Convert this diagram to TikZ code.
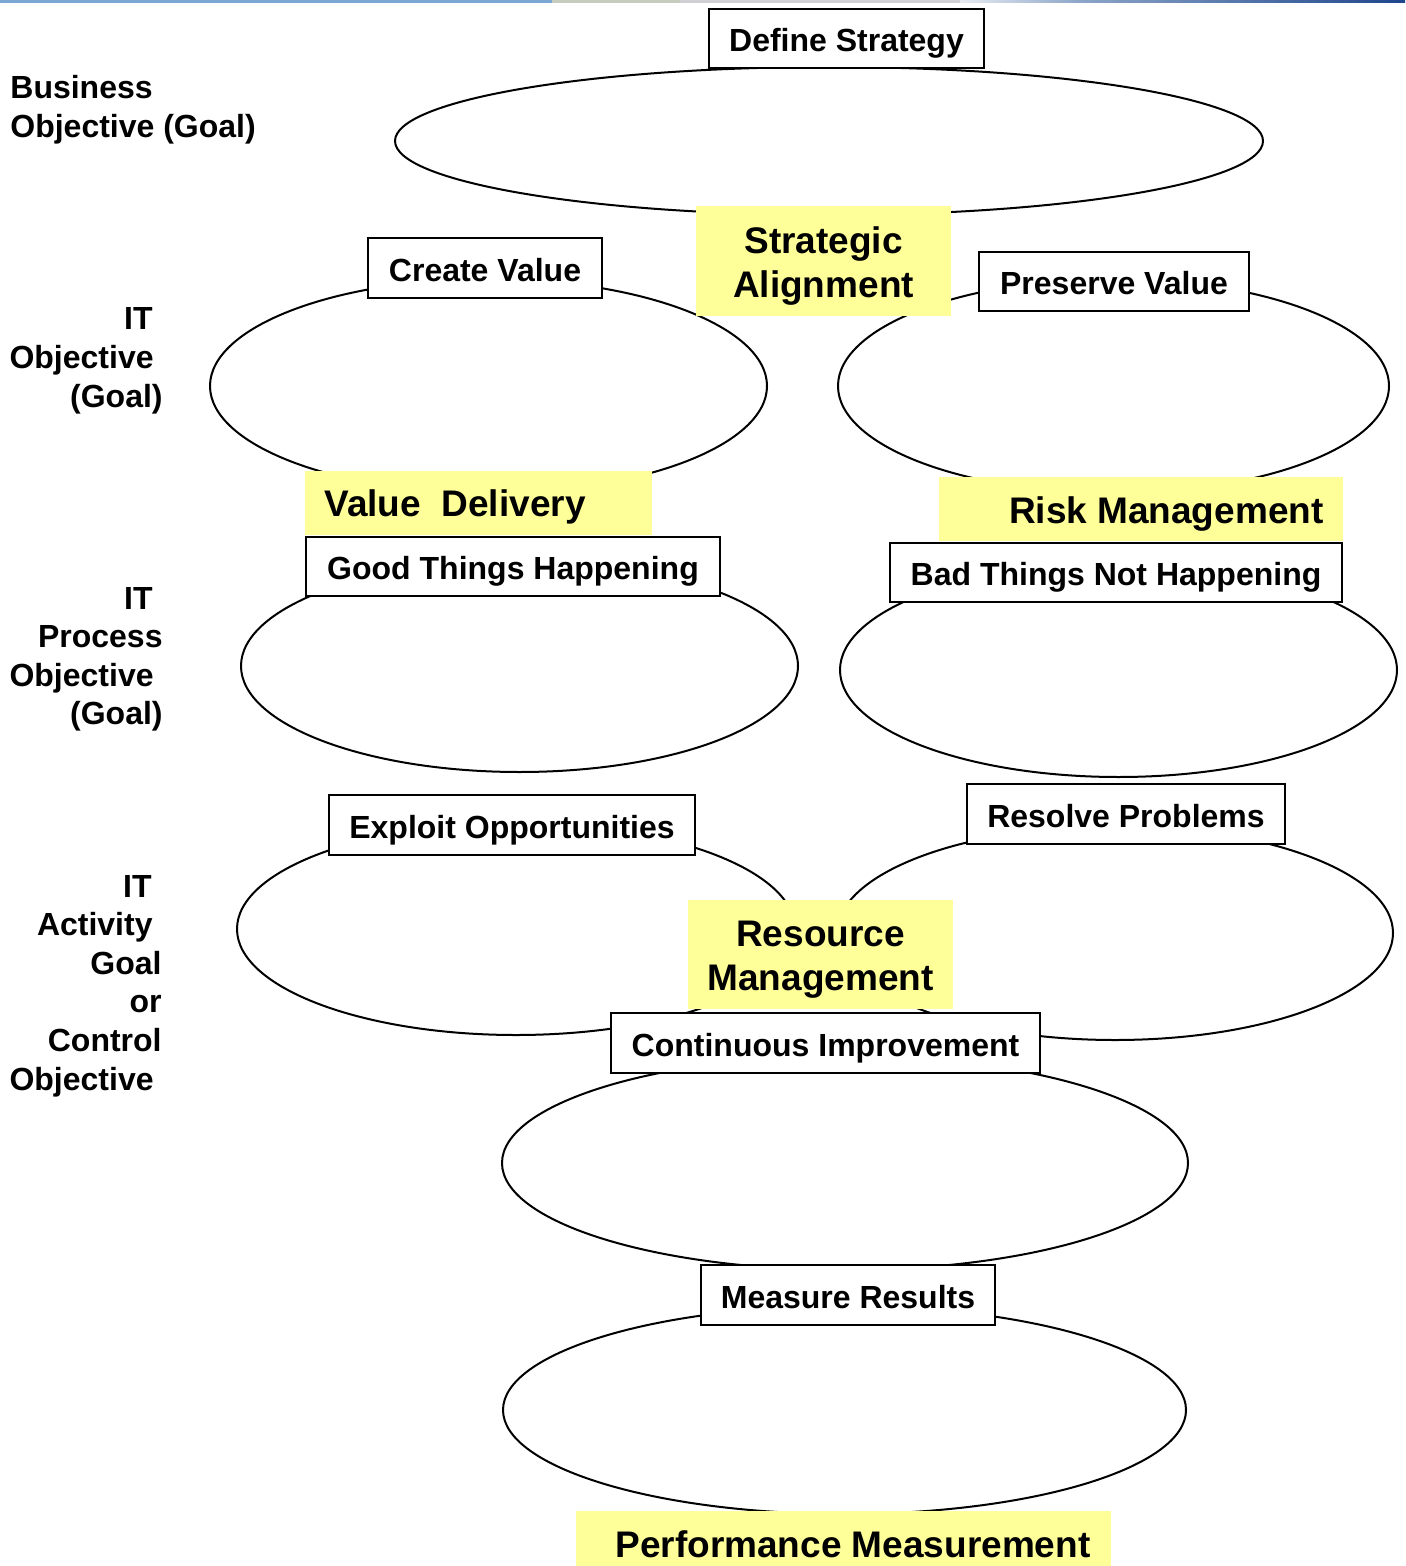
\documentclass[tikz,border=0pt]{standalone}
\usepackage{fontspec}
\setmainfont{Liberation Sans}
\usetikzlibrary{shapes.geometric}
\definecolor{hilite}{RGB}{255,255,153}
\definecolor{barblue}{RGB}{122,168,210}
\definecolor{bargreen}{RGB}{198,205,190}
\definecolor{bargrey}{RGB}{208,208,212}
\definecolor{barlight}{RGB}{232,236,242}
\definecolor{barmid}{RGB}{140,165,200}
\definecolor{bardark}{RGB}{30,70,140}
\begin{document}
\begin{tikzpicture}[x=0.5pt,y=-0.5pt,
  oval/.style={draw, line width=1pt, ellipse, inner sep=0pt},
  tag/.style={draw, line width=1.2pt, fill=white, inner sep=0pt,
    font=\fontsize{16}{19.5}\selectfont\bfseries, text height=13.46pt, text depth=0pt},
  band/.style={fill=hilite, inner sep=0pt},
  bandtxt/.style={inner sep=0pt, font=\fontsize{18.5}{22.5}\selectfont\bfseries,
    text height=13.25pt, text depth=0pt},
  side/.style={inner sep=0pt, font=\fontsize{16}{19.5}\selectfont\bfseries}
]
\clip (0,0) rectangle (1405,1566);
\fill[white] (0,0) rectangle (1405,1566);

% thin banner strip along the top edge
\fill[barblue] (0,0) rectangle (552,3);
\fill[bargreen] (552,0) rectangle (680,3);
\fill[bargrey] (680,0) rectangle (960,3);
\shade[left color=barlight, right color=barmid] (960,0) rectangle (1080,3);
\shade[left color=barmid, right color=bardark] (1080,0) rectangle (1405,3);

% row labels
\node[side, anchor=base west] (bus1) at (10,99) {Business};
\node[side, anchor=base west] (bus2) at (10,138) {Objective (Goal)};

\node[side, anchor=base east] (ito1) at (153,330) {IT};
\node[side, anchor=base east] (ito2) at (154,369) {Objective};
\node[side, anchor=base east] (ito3) at (163,408) {(Goal)};

\node[side, anchor=base east] (itp1) at (153,609) {IT};
\node[side, anchor=base east] (itp2) at (163,647.5) {Process};
\node[side, anchor=base east] (itp3) at (154,686) {Objective};
\node[side, anchor=base east] (itp4) at (163,724.5) {(Goal)};

\node[side, anchor=base east] (ita1) at (152,897) {IT};
\node[side, anchor=base east] (ita2) at (153,935.5) {Activity};
\node[side, anchor=base east] (ita3) at (162,974) {Goal};
\node[side, anchor=base east] (ita4) at (162,1012.5) {or};
\node[side, anchor=base east] (ita5) at (162,1051.5) {Control};
\node[side, anchor=base east] (ita6) at (154,1090) {Objective};

% goal ovals
\node[oval, minimum width=868*0.5pt, minimum height=148*0.5pt] (busoval) at (829,141) {};
\node[oval, minimum width=557*0.5pt, minimum height=214*0.5pt] (createoval) at (488.5,386) {};
\node[oval, minimum width=551*0.5pt, minimum height=214*0.5pt] (preserveoval) at (1113.5,386) {};
\node[oval, minimum width=557*0.5pt, minimum height=212*0.5pt] (goodoval) at (519.5,666) {};
\node[oval, minimum width=557*0.5pt, minimum height=214*0.5pt] (badoval) at (1118.5,670) {};
\node[oval, minimum width=558*0.5pt, minimum height=212*0.5pt] (exploitoval) at (516,929) {};
\node[oval, minimum width=556*0.5pt, minimum height=214*0.5pt] (resolveoval) at (1115,933) {};
\node[oval, minimum width=686*0.5pt, minimum height=214*0.5pt] (improveoval) at (845,1163) {};
\node[oval, minimum width=683*0.5pt, minimum height=208*0.5pt] (measureoval) at (844.5,1410) {};

% oval titles
\node[tag, minimum width=275*0.5pt, minimum height=59*0.5pt] (define) at (846.5,38.5) {Define Strategy};
\node[tag, minimum width=234*0.5pt, minimum height=60*0.5pt] (create) at (485,268) {Create Value};
\node[tag, minimum width=270*0.5pt, minimum height=59*0.5pt] (preserve) at (1114,281.5) {Preserve Value};
\node[tag, minimum width=414*0.5pt, minimum height=59*0.5pt] (good) at (513,566.5) {Good Things Happening};
\node[tag, minimum width=452*0.5pt, minimum height=59*0.5pt] (bad) at (1116,572.5) {Bad Things Not Happening};
\node[tag, minimum width=366*0.5pt, minimum height=60*0.5pt] (exploit) at (512,825) {Exploit Opportunities};
\node[tag, minimum width=318*0.5pt, minimum height=60*0.5pt] (resolve) at (1126,814) {Resolve Problems};
\node[tag, minimum width=429*0.5pt, minimum height=60*0.5pt] (improve) at (825.5,1043) {Continuous Improvement};
\node[tag, minimum width=294*0.5pt, minimum height=60*0.5pt] (measure) at (848,1295) {Measure Results};

% focus areas
\node[band, minimum width=255*0.5pt, minimum height=110*0.5pt] (align) at (823.5,261) {};
\node[bandtxt] (align1) at (823.5,240.5) {Strategic};
\node[bandtxt] (align2) at (823.5,284.5) {Alignment};

\node[band, minimum width=347*0.5pt, minimum height=64*0.5pt] (value) at (478.5,503) {};
\node[bandtxt, anchor=west] (valuetxt) at (324,503.5) {Value\ \ Delivery};

\node[band, minimum width=404*0.5pt, minimum height=64*0.5pt] (risk) at (1141,509) {};
\node[bandtxt, anchor=east] (risktxt) at (1324,510.5) {Risk Management};

\node[band, minimum width=265*0.5pt, minimum height=109*0.5pt] (resource) at (820.5,954.5) {};
\node[bandtxt] (resource1) at (820.5,933) {Resource};
\node[bandtxt] (resource2) at (820.5,977.5) {Management};

\node[band, minimum width=535*0.5pt, minimum height=66*0.5pt] (perf) at (843.5,1544) {};
\node[bandtxt] (perftxt) at (853,1544.5) {Performance Measurement};
\end{tikzpicture}
\end{document}
